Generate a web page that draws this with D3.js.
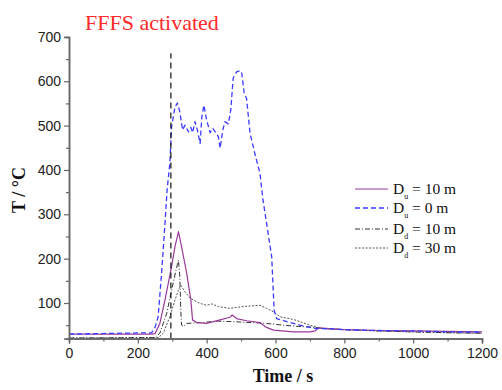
<!DOCTYPE html>
<html>
<head>
<meta charset="utf-8">
<script src="https://cdn.jsdelivr.net/npm/d3@7"></script>
<style>
  body { margin: 0; background: #fff; }
  svg { display: block; }
</style>
</head>
<body>
<svg id="chart" width="502" height="390"></svg>
<script>
// ---- data ----
const timeDu10 = [0, 240, 250, 264, 279, 298, 308, 318, 327, 342, 354, 359, 371, 400, 439, 468, 474, 487, 516, 555, 565, 574, 594, 652, 700, 715, 725, 800, 900, 1000, 1100, 1200];
const tempDu10 = [30, 30, 31, 54, 107, 182, 227, 261, 227, 167, 107, 62, 56, 54, 62, 68, 73, 65, 60, 56, 50, 45, 39, 35, 35, 37, 44, 40, 38, 37, 36, 35];

const timeDu0 = [0, 240, 250, 259, 269, 279, 285, 293, 298, 308, 315, 322, 330, 337, 347, 354, 359, 366, 373, 381, 386, 392, 400, 410, 417, 427, 434, 439, 447, 453, 463, 470, 477, 487, 497, 502, 509, 516, 526, 540, 555, 563, 574, 589, 596, 603, 633, 671, 710, 750, 800, 900, 1000, 1100, 1200];
const tempDu0 = [30, 33, 45, 69, 167, 280, 355, 415, 497, 542, 551, 531, 490, 501, 486, 496, 484, 509, 490, 460, 520, 546, 512, 484, 494, 484, 475, 449, 490, 509, 504, 535, 607, 621, 624, 618, 573, 561, 483, 437, 392, 336, 280, 204, 84, 65, 58, 50, 43, 42, 40, 38, 37, 35, 34];

const timeDd10 = [0, 250, 264, 284, 298, 311, 318, 322, 325, 327, 333, 342, 381, 434, 477, 574, 623, 671, 700, 750, 800, 900, 1000, 1100, 1200];
const tempDd10 = [21, 22, 32, 77, 129, 174, 197, 159, 80, 50, 47, 54, 56, 59, 58, 54, 50, 47, 46, 42, 40, 37, 35, 33, 32];

const timeDd30 = [0, 260, 274, 293, 308, 318, 325, 337, 352, 371, 381, 400, 415, 434, 468, 506, 555, 574, 594, 613, 652, 700, 729, 800, 900, 1000, 1100, 1200];
const tempDd30 = [21, 22, 32, 69, 107, 129, 140, 125, 111, 103, 99, 95, 98, 92, 88, 92, 95, 88, 80, 69, 63, 50, 43, 40, 37, 35, 33, 32];

// FFFS activation marker
const fffsTime = [296, 296];
const fffsTemp = [20, 663];

const xTicks = [0, 200, 400, 600, 800, 1000, 1200];
const xMinor = [100, 300, 500, 700, 900, 1100];
const yTicks = [100, 200, 300, 400, 500, 600, 700];
const yMinor = [50, 150, 250, 350, 450, 550, 650];

const seriesNames = ["Du10", "Du0", "Dd10", "Dd30"];
const legendMain = ["D", "D", "D", "D"];
const legendSub = ["u", "u", "d", "d"];
const legendRest = [" = 10 m", " = 0 m", " = 10 m", " = 30 m"];

// ---- drawing ----
const svg = d3.select("#chart");
const x = d3.scaleLinear().domain([0, 1200]).range([69, 482]);
const y = d3.scaleLinear().domain([20, 700]).range([338.5, 36.9]);

const styles = {
  Du10: { stroke: "#9a3a9a", width: 1.2, dash: null },
  Du0:  { stroke: "#3a3aff", width: 1.3, dash: "5,3" },
  Dd10: { stroke: "#333", width: 1.0, dash: "5,2,1,2" },
  Dd30: { stroke: "#555", width: 1.0, dash: "2,1.5" }
};
const seriesData = {
  Du10: timeDu10.map((t, i) => [t, tempDu10[i]]),
  Du0:  timeDu0.map((t, i) => [t, tempDu0[i]]),
  Dd10: timeDd10.map((t, i) => [t, tempDd10[i]]),
  Dd30: timeDd30.map((t, i) => [t, tempDd30[i]])
};

const line = d3.line().x(d => x(d[0])).y(d => y(d[1]));

["Dd30", "Dd10", "Du10", "Du0"].forEach(k => {
  const s = styles[k];
  svg.append("path")
    .datum(seriesData[k])
    .attr("d", line)
    .attr("fill", "none")
    .attr("stroke", s.stroke)
    .attr("stroke-width", s.width)
    .attr("stroke-dasharray", s.dash)
    .attr("stroke-linejoin", "round");
});

// FFFS marker line
svg.append("path")
  .datum(fffsTime.map((t, i) => [t, fffsTemp[i]]))
  .attr("d", line)
  .attr("fill", "none")
  .attr("stroke", "#111")
  .attr("stroke-width", 1.2)
  .attr("stroke-dasharray", "6,4");

// axes
const axisColor = "#666";
const xAxis = svg.append("g").attr("transform", "translate(0,338.5)")
  .call(d3.axisBottom(x).tickValues(xTicks).tickSize(5).tickPadding(5).tickFormat(d3.format("d")));
const xAxisMinor = svg.append("g").attr("transform", "translate(0,338.5)")
  .call(d3.axisBottom(x).tickValues(xMinor).tickSize(3).tickFormat(""));
const yAxis = svg.append("g").attr("transform", "translate(69,0)")
  .call(d3.axisLeft(y).tickValues(yTicks).tickSize(5).tickPadding(3).tickFormat(d3.format("d")));
const yAxisMinor = svg.append("g").attr("transform", "translate(69,0)")
  .call(d3.axisLeft(y).tickValues(yMinor).tickSize(3).tickFormat(""));

[xAxis, xAxisMinor, yAxis, yAxisMinor].forEach(g => {
  g.select(".domain").attr("stroke", axisColor).attr("stroke-width", 1.5);
  g.selectAll(".tick line").attr("stroke", axisColor).attr("stroke-width", 1.2);
  g.selectAll(".tick text")
    .attr("fill", "#222")
    .style("font-family", "Arial, 'Liberation Sans', sans-serif")
    .style("font-size", "14px");
});

// titles
svg.append("text")
  .attr("x", 85).attr("y", 30)
  .attr("fill", "#ff2a2a")
  .style("font-family", "'Liberation Serif', 'Times New Roman', serif")
  .style("font-size", "22px")
  .text("FFFS activated");

svg.append("text")
  .attr("x", 283).attr("y", 382)
  .attr("text-anchor", "middle")
  .attr("fill", "#111")
  .style("font-family", "'Liberation Serif', 'Times New Roman', serif")
  .style("font-weight", "bold")
  .style("font-size", "18px")
  .text("Time / s");

svg.append("text")
  .attr("transform", "translate(25,190) rotate(-90)")
  .attr("text-anchor", "middle")
  .attr("fill", "#111")
  .style("font-family", "'Liberation Serif', 'Times New Roman', serif")
  .style("font-weight", "bold")
  .style("font-size", "18px")
  .text("T / °C");

// legend
const legendY = [189, 208, 229, 248];
const legend = svg.append("g");
seriesNames.forEach((k, i) => {
  const s = styles[k];
  const ly = legendY[i];
  legend.append("line")
    .attr("x1", 355).attr("x2", 388).attr("y1", ly).attr("y2", ly)
    .attr("stroke", s.stroke).attr("stroke-width", s.width)
    .attr("stroke-dasharray", s.dash);
  const t = legend.append("text")
    .attr("x", 393).attr("y", ly + 5)
    .attr("fill", "#111")
    .style("font-family", "'Liberation Serif', 'Times New Roman', serif")
    .style("font-size", "15.5px");
  t.append("tspan").text(legendMain[i]);
  t.append("tspan").attr("dy", 5).style("font-size", "8px").text(legendSub[i]);
  t.append("tspan").attr("dy", -5).text(legendRest[i]);
});
</script>
</body>
</html>
